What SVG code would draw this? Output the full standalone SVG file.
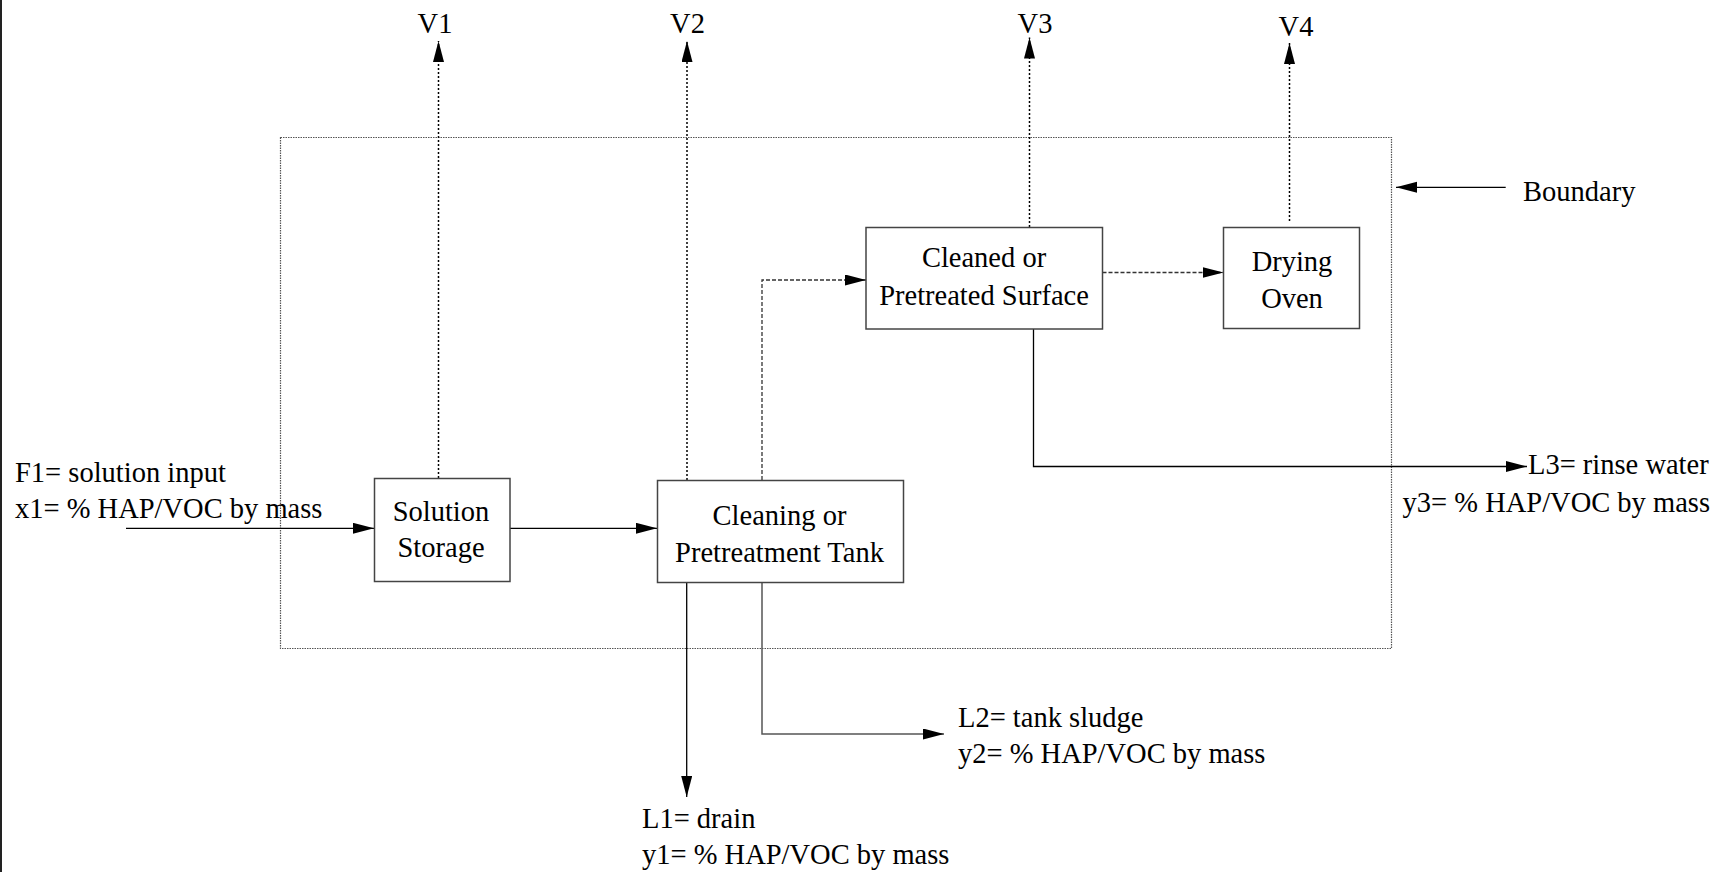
<svg xmlns="http://www.w3.org/2000/svg" width="1715" height="872" viewBox="0 0 1715 872">
<style>
text{font-family:"Liberation Serif","Times New Roman",serif;font-size:28.5px;fill:#000}
.c{text-anchor:middle}
.box{fill:#fff;stroke:#444;stroke-width:1.5}
.dot{fill:none;stroke:#000;stroke-width:1.5;stroke-dasharray:2 2}
.dash{fill:none;stroke:#333;stroke-width:1.3;stroke-dasharray:4 2}
.solid{fill:none;stroke:#000;stroke-width:1.3}
.gray{fill:none;stroke:#555;stroke-width:1.5}
.bnd{fill:none;stroke:#555;stroke-width:1.2;stroke-dasharray:1.5 1}
</style>
<defs>
<marker id="ah" markerUnits="userSpaceOnUse" markerWidth="22" markerHeight="12" refX="21" refY="5.5" orient="auto">
<path d="M0,0 L21,5.5 L0,11 z" fill="#000"/>
</marker>
</defs>
<rect x="0" y="0" width="2" height="872" fill="#222"/>
<g id="boundary">
<rect class="bnd" x="280.5" y="137.5" width="1111" height="511"/>
</g>
<g id="connectors">
<path class="dot" d="M438.5,478 V41" marker-end="url(#ah)"/>
<path class="dot" d="M687,480 V41" marker-end="url(#ah)"/>
<path class="dot" d="M1029.5,227 V37.5" marker-end="url(#ah)"/>
<path class="dot" d="M1289.5,221 V43" marker-end="url(#ah)"/>
<path class="solid" d="M126,528.3 H374" marker-end="url(#ah)"/>
<path class="solid" d="M510,528.3 H657" marker-end="url(#ah)"/>
<path class="dash" d="M762,480 V280 H866" marker-end="url(#ah)"/>
<path class="dash" d="M1102.5,272.5 H1223.5" marker-end="url(#ah)"/>
<path class="solid" d="M1033.5,329 V466.5 H1527" marker-end="url(#ah)"/>
<path class="gray" d="M762,583 V734 H944" marker-end="url(#ah)"/>
<path class="solid" d="M686.7,583 V797" marker-end="url(#ah)"/>
<path class="solid" d="M1505.7,187.3 H1396" marker-end="url(#ah)"/>
</g>
<g id="solution-storage">
<rect class="box" x="374.5" y="478.5" width="135.5" height="103"/>
<text class="c" x="441" y="520.5">Solution</text>
<text class="c" x="441" y="557">Storage</text>
</g>
<g id="cleaning-tank">
<rect class="box" x="657.5" y="480.5" width="246" height="102"/>
<text class="c" x="779.5" y="525">Cleaning or</text>
<text class="c" x="779.5" y="561.5">Pretreatment Tank</text>
</g>
<g id="cleaned-surface">
<rect class="box" x="866" y="227.5" width="236.5" height="101.5"/>
<text class="c" x="984" y="267">Cleaned or</text>
<text class="c" x="984" y="305">Pretreated Surface</text>
</g>
<g id="drying-oven">
<rect class="box" x="1223.5" y="227.5" width="136" height="101"/>
<text class="c" x="1292" y="270.5">Drying</text>
<text class="c" x="1292" y="307.5">Oven</text>
</g>
<g id="labels">
<text class="c" x="435" y="33">V1</text>
<text class="c" x="687.5" y="33">V2</text>
<text class="c" x="1035" y="33">V3</text>
<text class="c" x="1296" y="36">V4</text>
<text x="1523" y="201">Boundary</text>
<text x="15" y="482">F1= solution input</text>
<text x="15" y="518">x1= % HAP/VOC by mass</text>
<text x="1528" y="474">L3= rinse water</text>
<text x="1710" y="511.5" style="text-anchor:end">y3= % HAP/VOC by mass</text>
<text x="958" y="727">L2= tank sludge</text>
<text x="958" y="763">y2= % HAP/VOC by mass</text>
<text x="642" y="828">L1= drain</text>
<text x="642" y="864">y1= % HAP/VOC by mass</text>
</g>
</svg>
